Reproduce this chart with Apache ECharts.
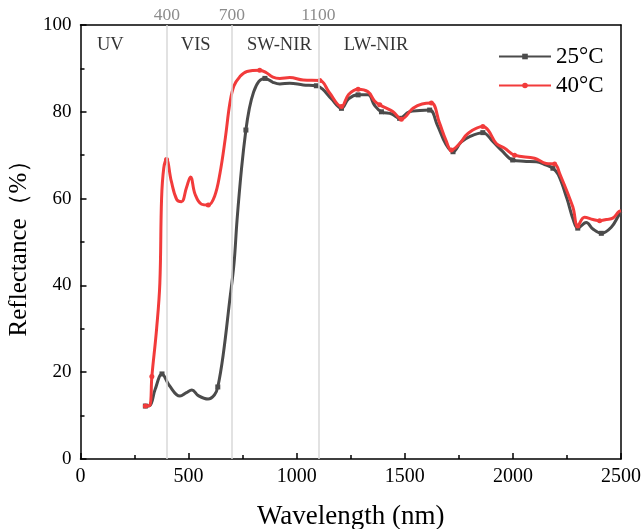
<!DOCTYPE html>
<html>
<head>
<meta charset="utf-8">
<script src="https://cdn.jsdelivr.net/npm/echarts@6/dist/echarts.min.js"></script>
<style>
	html, body { margin: 0; padding: 0; background: #fff; }
	#chart { width: 643px; height: 529px; }
</style>
</head>
<body>
<div id="chart"></div>
<script>
// 25°C
const wl25 = [300, 320, 345, 377, 410, 460, 490, 515, 545, 590, 620, 635, 660, 690, 710, 724, 745, 765, 780, 799, 825, 853, 890, 922, 968, 1030, 1091,
	1120, 1160, 1207, 1240, 1284, 1330, 1360, 1392, 1440, 1476, 1520, 1570, 1615, 1650, 1690, 1723, 1760, 1800, 1861, 1908, 1950, 1999,
	2050, 2108, 2150, 2185, 2210, 2250, 2280, 2300, 2339, 2370, 2409, 2455, 2490, 2500];
const ref25 = [12.2, 12.3, 16, 19.6, 17, 14.5, 15.3, 15.9, 14.6, 13.8, 14.8, 16.6, 24, 36.5, 45, 55, 67, 75.8, 80.5, 84.3, 87, 87.7, 86.8, 86.4, 86.6, 86.2, 86.0,
	85.2, 83, 80.8, 83, 83.9, 83.9, 81.5, 80.0, 79.5, 78.5, 80.0, 80.3, 80.4, 77, 72.5, 70.8, 73, 74.3, 75.2, 73.1, 71, 68.9,
	68.6, 68.5, 67.8, 67.0, 65.5, 60, 55, 53.2, 54.5, 53, 52.0, 53.4, 56.2, 57];
// 40°C
const wl40 = [300, 320, 330, 352, 367, 375, 385, 398, 420, 445, 467, 490, 509, 530, 560, 591, 620, 645, 670, 691, 710, 737, 770, 829, 860, 890, 922, 968, 1030, 1107,
	1150, 1207, 1240, 1284, 1330, 1360, 1384, 1446, 1484, 1538, 1580, 1623, 1660, 1690, 1715, 1754, 1792, 1861, 1885, 1923, 1962, 2008,
	2100, 2154, 2193, 2216, 2277, 2300, 2331, 2370, 2401, 2432, 2462, 2490, 2500];
const ref40 = [12.2, 12.3, 19, 30, 40.5, 60, 67, 69, 64, 59.8, 59.3, 62.5, 65, 61, 58.7, 58.5, 60.5, 65.8, 74, 82, 86, 88.1, 89.3, 89.6, 89, 88, 87.7, 87.9, 87.3, 87.2,
	84.5, 81.2, 84, 85.2, 84.6, 82.5, 81.6, 80.0, 78.3, 80.8, 81.8, 82.0, 77.5, 73.5, 71.2, 72.7, 75.0, 76.6, 75.8, 72.7, 71.6, 70.0,
	69.3, 68.1, 68.0, 65.8, 58.1, 53.7, 55.7, 55.2, 54.9, 55.2, 55.5, 57.0, 57.2];
// 标记点所在波长
const marks25 = [300, 377, 635, 765, 853, 1091, 1207, 1284, 1392, 1476, 1615, 1723, 1861, 1999, 2185, 2300, 2409];
const marks40 = [300, 330, 398, 591, 829, 1107, 1207, 1284, 1384, 1484, 1623, 1715, 1861, 2008, 2193, 2300, 2401];
// 分区
const bandLines = [400, 700, 1100];
const bandNames = ['UV', 'VIS', 'SW-NIR', 'LW-NIR'];
const bandX = [76, 464, 770, 1218];
const bandY = 95.4;

const serif = 'Liberation Serif';
const pairs = ( xs, ys ) => xs.map( ( x, i ) => [x, ys[i]] );

const chart = echarts.init( document.getElementById( 'chart' ) );
chart.setOption( {
	animation: false,
	textStyle: { fontFamily: serif },
	grid: { left: 80.5, right: 22, top: 25, bottom: 70, outerBoundsMode: 'none' },
	legend: {
		orient: 'vertical',
		left: 493,
		top: 40,
		itemWidth: 52,
		itemHeight: 7,
		itemGap: 6,
		textStyle: { fontFamily: serif, fontSize: 23, color: '#000' },
		data: ['25°C', '40°C']
	},
	xAxis: [ {
		type: 'value',
		min: 0, max: 2500, interval: 500,
		name: 'Wavelength (nm)',
		nameLocation: 'middle',
		nameGap: 44,
		nameTextStyle: { fontFamily: serif, fontSize: 27, color: '#000' },
		axisLine: { onZero: false, lineStyle: { color: '#000', width: 1.5 } },
		axisTick: { inside: true, length: 6, lineStyle: { color: '#000', width: 1.5 } },
		minorTick: { show: true, splitNumber: 2, length: 4, lineStyle: { color: '#000', width: 1.5 } },
		axisLabel: { fontFamily: serif, fontSize: 20, color: '#000', margin: 8, formatter: v => String( v ) },
		splitLine: { show: false }
	}, {
		type: 'value', position: 'top', min: 0, max: 2500,
		axisLine: { onZero: false, lineStyle: { color: '#000', width: 1.5 } },
		axisTick: { show: false }, axisLabel: { show: false }, splitLine: { show: false }
	} ],
	yAxis: [ {
		type: 'value',
		min: 0, max: 100, interval: 20,
		name: 'Reflectance（%）',
		nameLocation: 'middle',
		nameGap: 41,
		nameTextStyle: { fontFamily: serif, fontSize: 25, color: '#000' },
		axisLine: { onZero: false, lineStyle: { color: '#000', width: 1.5 } },
		axisTick: { inside: true, length: 6, lineStyle: { color: '#000', width: 1.5 } },
		minorTick: { show: true, splitNumber: 2, length: 4, lineStyle: { color: '#000', width: 1.5 } },
		axisLabel: { fontFamily: serif, fontSize: 19, color: '#000', margin: 9 },
		splitLine: { show: false }
	}, {
		type: 'value', position: 'right', min: 0, max: 100,
		axisLine: { onZero: false, lineStyle: { color: '#000', width: 1.5 } },
		axisTick: { show: false }, axisLabel: { show: false }, splitLine: { show: false }
	} ],
	series: [
		{
			name: '25°C',
			type: 'line',
			data: pairs( wl25, ref25 ),
			smooth: 0.4,
			symbol: 'rect',
			symbolSize: ( v ) => marks25.includes( v[0] ) ? 5 : 0,
			lineStyle: { color: '#4b4b4b', width: 3 },
			itemStyle: { color: '#4b4b4b' },
			z: 3,
			markLine: {
				silent: true,
				symbol: 'none',
				lineStyle: { color: '#d9d9d9', width: 1.5, type: 'solid' },
				label: { position: 'end', distance: 1, color: '#8c8c8c', fontFamily: serif, fontSize: 17.5, formatter: '{c}' },
				data: bandLines.map( x => ( { xAxis: x } ) )
			}
		},
		{
			name: '40°C',
			type: 'line',
			data: pairs( wl40, ref40 ),
			smooth: 0.4,
			symbol: 'circle',
			symbolSize: ( v ) => marks40.includes( v[0] ) ? 5 : 0,
			lineStyle: { color: '#f23b3b', width: 3 },
			itemStyle: { color: '#f23b3b' },
			z: 4
		},
		{
			type: 'scatter',
			symbolSize: 0,
			silent: true,
			data: bandNames.map( ( n, i ) => ( { name: n, value: [bandX[i], bandY] } ) ),
			label: { show: true, position: 'right', distance: 0, formatter: '{b}', fontFamily: serif, fontSize: 18.5, color: '#000' }
		}
	]
} );
</script>
</body>
</html>
